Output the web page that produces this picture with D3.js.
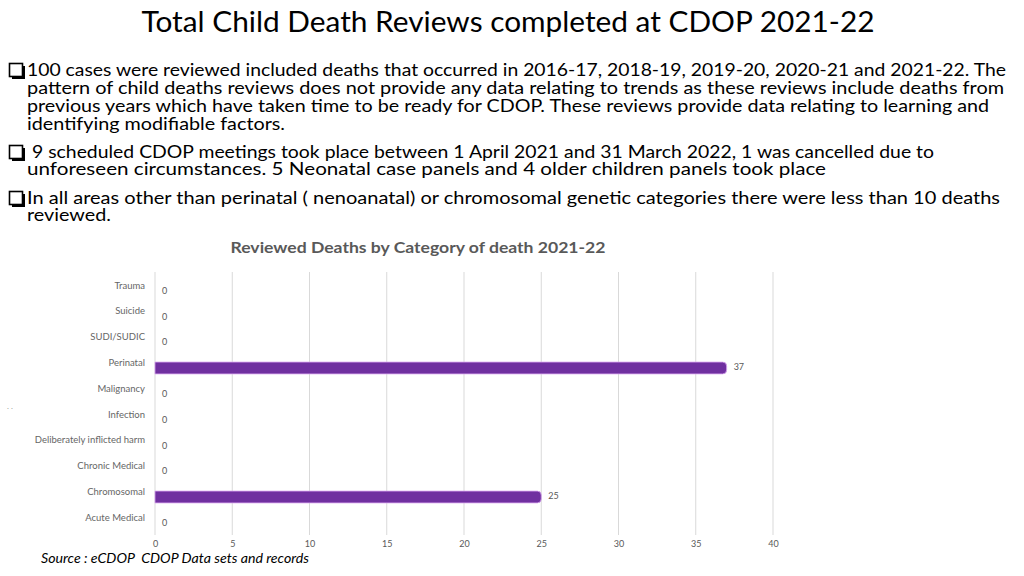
<!DOCTYPE html>
<html>
<head>
<meta charset="utf-8">
<script src="https://cdn.jsdelivr.net/npm/d3@7"></script>
<style>
  html, body { margin: 0; padding: 0; background: #fff; }
  svg { display: block; }
</style>
</head>
<body>
<svg id="chart" width="1024" height="576"></svg>
<script>
const pageTitle = "Total Child Death Reviews completed at CDOP 2021-22";
const bulletLines = [
  ["100 cases were reviewed included deaths that occurred in 2016-17, 2018-19, 2019-20, 2020-21 and 2021-22. The",
   "pattern of child deaths reviews does not provide any data relating to trends as these reviews include deaths from",
   "previous years which have taken time to be ready for CDOP. These reviews provide data relating to learning and",
   "identifying modifiable factors."],
  [" 9 scheduled CDOP meetings took place between 1 April 2021 and 31 March 2022, 1 was cancelled due to",
   "unforeseen circumstances. 5 Neonatal case panels and 4 older children panels took place"],
  ["In all areas other than perinatal ( nenoanatal) or chromosomal genetic categories there were less than 10 deaths",
   "reviewed."]
];
const chartTitle = "Reviewed Deaths by Category of death 2021-22";
const categories = ["Trauma", "Suicide", "SUDI/SUDIC", "Perinatal", "Malignancy", "Infection",
  "Deliberately inflicted harm", "Chronic Medical", "Chromosomal", "Acute Medical"];
const values = [0, 0, 0, 37, 0, 0, 0, 0, 25, 0];
const xTicks = [0, 5, 10, 15, 20, 25, 30, 35, 40];
const sourceText = "Source : eCDOP  CDOP Data sets and records";

const svg = d3.select("#chart");
const font = "Lato, 'Open Sans', sans-serif";

// Page title
svg.append("text")
  .attr("x", 508).attr("y", 32)
  .attr("text-anchor", "middle")
  .attr("font-family", font).attr("font-size", 28)
  .attr("fill", "#000")
  .attr("textLength", 733).attr("lengthAdjust", "spacingAndGlyphs")
  .text(pageTitle);

// Bullets
const bulletLayout = [
  {y: [76, 94, 112, 130], widths: [979, 977, 962, 258], x0: 27},
  {y: [158, 175], widths: [907, 799], x0: 27},
  {y: [204, 221], widths: [973, 84], x0: 27}
];
bulletLines.forEach((lines, bi) => {
  const L = bulletLayout[bi];
  const by = L.y[0] - 13;
  svg.append("rect").attr("x", 9.5).attr("y", by + 0.5).attr("width", 13).attr("height", 13)
    .attr("fill", "none").attr("stroke", "#000").attr("stroke-width", 1.6);
  svg.append("line").attr("x1", 12).attr("x2", 24).attr("y1", by + 15).attr("y2", by + 15)
    .attr("stroke", "#000").attr("stroke-width", 2);
  svg.append("line").attr("x1", 24).attr("x2", 24).attr("y1", by + 3).attr("y2", by + 16)
    .attr("stroke", "#000").attr("stroke-width", 2);
  lines.forEach((t, i) => {
    svg.append("text")
      .attr("x", L.x0).attr("y", L.y[i])
      .attr("font-family", font).attr("font-size", 17.5)
      .attr("fill", "#000")
      .attr("xml:space", "preserve")
      .style("white-space", "pre")
      .attr("textLength", L.widths[i]).attr("lengthAdjust", "spacingAndGlyphs")
      .text(t);
  });
});

// Chart title
svg.append("text")
  .attr("x", 418).attr("y", 253)
  .attr("text-anchor", "middle")
  .attr("font-family", font).attr("font-size", 16).attr("font-weight", "bold")
  .attr("fill", "#595959")
  .attr("textLength", 375).attr("lengthAdjust", "spacingAndGlyphs")
  .text(chartTitle);

// Scales
const x = d3.scaleLinear().domain([0, 40]).range([155, 773]);
const y = d3.scaleBand().domain(categories).range([277.7, 535.7]).paddingInner(0.54).paddingOuter(0.27);
const bw = y.bandwidth();

// Gridlines
svg.append("g").selectAll("line").data(xTicks).join("line")
  .attr("x1", d => x(d)).attr("x2", d => x(d))
  .attr("y1", 272).attr("y2", 535)
  .attr("stroke", "#d9d9d9").attr("stroke-width", 1);

// X axis labels
const xAxis = d3.axisBottom(x).tickValues(xTicks).tickSize(0).tickPadding(0);
const gx = svg.append("g").attr("transform", "translate(0,541)").call(xAxis);
gx.select(".domain").remove();
gx.selectAll("text").attr("font-family", font).attr("font-size", 9).attr("fill", "#595959");

// Y axis labels
const yAxis = d3.axisLeft(y).tickSize(0).tickPadding(0);
const gy = svg.append("g").attr("transform", "translate(145,-5)").call(yAxis);
gy.select(".domain").remove();
gy.selectAll("text").attr("font-family", font).attr("font-size", 9.5).attr("fill", "#666");

// Bars with rounded right end
const data = categories.map((c, i) => ({c, v: values[i]}));
function barPath(d) {
  const x0 = x(0), x1 = x(d.v), y0 = y(d.c), h = bw, r = Math.min(4, (x1 - x0) / 2);
  return `M${x0},${y0} H${x1 - r} Q${x1},${y0} ${x1},${y0 + r} V${y0 + h - r} Q${x1},${y0 + h} ${x1 - r},${y0 + h} H${x0} Z`;
}
svg.append("g").selectAll("path").data(data.filter(d => d.v > 0)).join("path")
  .attr("d", barPath)
  .attr("fill", "#7030A0")
  .attr("stroke", "#d9a6f0").attr("stroke-width", 0.8);

// Value labels
svg.append("g").selectAll("text").data(data).join("text")
  .attr("x", d => x(d.v) + 7)
  .attr("y", d => y(d.c) + bw / 2 + (d.v > 0 ? 0 : 1))
  .attr("dominant-baseline", "middle")
  .attr("font-family", font).attr("font-size", 9).attr("fill", "#595959")
  .text(d => d.v);

// Stray dots
svg.append("text").attr("x", 7).attr("y", 409)
  .attr("font-family", font).attr("font-size", 8).attr("fill", "#999")
  .text(". .");

// Source
svg.append("text")
  .attr("x", 41).attr("y", 563)
  .attr("font-family", font).attr("font-size", 13.5).attr("font-style", "italic")
  .attr("fill", "#000")
  .attr("xml:space", "preserve").style("white-space", "pre")
  .attr("textLength", 268).attr("lengthAdjust", "spacingAndGlyphs")
  .text(sourceText);
</script>
</body>
</html>
